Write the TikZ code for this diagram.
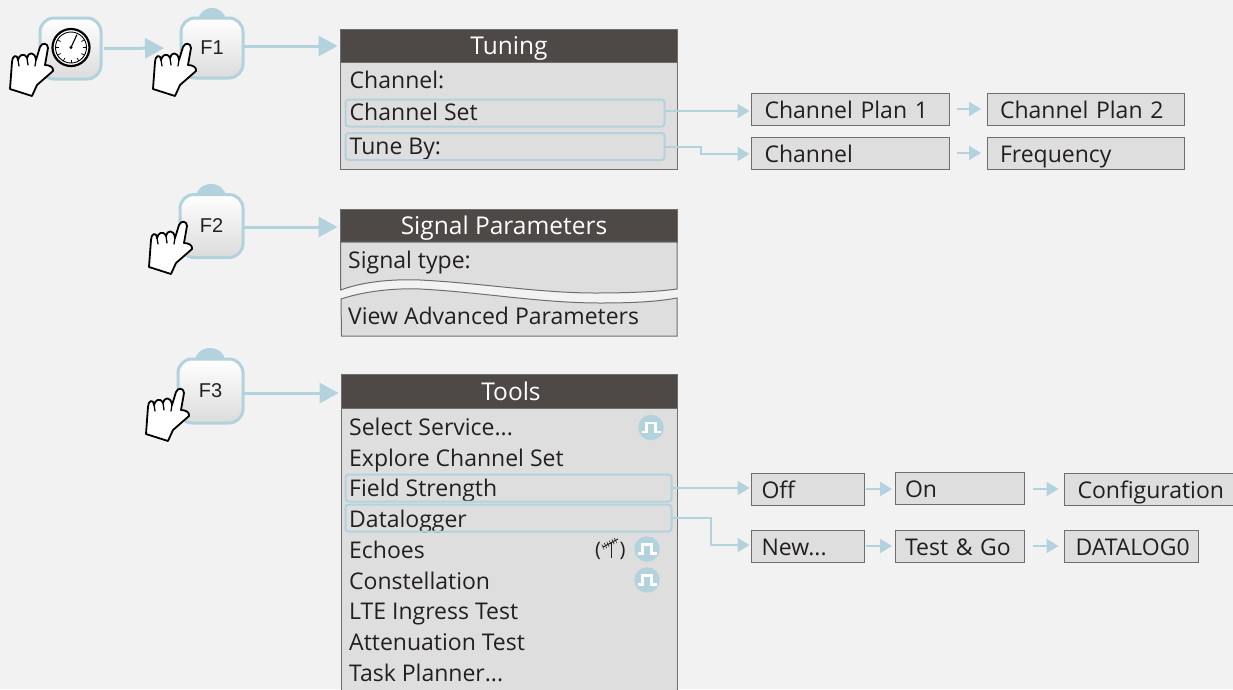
\documentclass[tikz,border=0pt]{standalone}
\usepackage{fontspec}
\setmainfont{Open Sans}
\newfontfamily\arialfont{Liberation Sans}
\usetikzlibrary{arrows.meta,calc}
\definecolor{pagebg}{HTML}{F2F2F2}
\definecolor{panelfill}{HTML}{DEDEDE}
\definecolor{panelline}{HTML}{6E6E6E}
\definecolor{headfill}{HTML}{4E4946}
\definecolor{linkblue}{HTML}{B2D2DD}
\definecolor{inktext}{HTML}{231F20}
\tikzset{
  x=1pt,y=-1pt,
  txt/.style={font=\fontsize{23}{26}\selectfont,text=inktext,anchor=base west,inner sep=0pt},
  headbox/.style={fill=headfill,draw=panelline,line width=1pt,text=white,font=\fontsize{24.5}{27}\selectfont,
     minimum width=#1pt,minimum height=33pt,inner sep=0pt,outer sep=0pt,text height=20pt,text depth=3pt,anchor=north west},
  bodybox/.style={fill=panelfill,draw=panelline,line width=1pt,minimum width=#1pt,inner sep=0pt,outer sep=0pt,anchor=north west},
  selbox/.style={draw=linkblue,line width=2pt,rounded corners=3pt,minimum width=#1pt,minimum height=27pt,inner sep=0pt,outer sep=0pt,anchor=north west},
  mbox/.style={fill=panelfill,draw=panelline,line width=1pt,font=\fontsize{23}{26}\selectfont,text=inktext,
     text width=#1pt,align=left,inner xsep=13pt,inner ysep=0pt,outer sep=0pt,minimum height=32pt,text height=20pt,text depth=2pt,anchor=north west},
  fbtn/.style={draw=linkblue,line width=3pt,rounded corners=14pt,top color=white,bottom color=black!14,
     minimum width=#1pt,inner sep=0pt,outer sep=0pt,font=\arialfont\fontsize{20}{22}\selectfont,text=inktext},
  bigarrow/.style={draw=linkblue,line width=3pt,-{Triangle[length=19pt,width=20pt]}},
  midarrow/.style={draw=linkblue,line width=2pt,-{Triangle[length=12pt,width=14pt]}},
  tinyarrow/.style={draw=linkblue,line width=2pt,-{Triangle[length=12pt,width=14pt]}},
  bump/.style={fill=linkblue},
  pulsedot/.style={circle,fill=linkblue,minimum size=25.5pt,inner sep=0pt,outer sep=0pt},
  handpic/.pic={
    \draw[fill=white,draw=black,line width=1.8pt,line join=round]
      (10,89) -- (12,62) .. controls (12,56) and (17,53) .. (18,60)
      .. controls (19,55) and (24,52) .. (27,58)
      .. controls (28,52) and (35,51) .. (36,60)
      -- (40,47) .. controls (42,42) and (48,43) .. (48,48)
      -- (45,65) .. controls (49,65) and (54,67) .. (53,71)
      -- (37,85) -- (32,96) -- cycle;
    \draw[draw=black,line width=1.3pt,line cap=round] (18,60) -- (19,66) (27,58) -- (28,65) (36,60) -- (35,66);
  },
  pulsepic/.pic={
    \draw[white,line width=2.2pt] (-9,4.5) -- (-4.5,4.5) -- (-4.5,-4.5) -- (4.5,-4.5) -- (4.5,4.5) -- (9.5,4.5);
  }
}
\begin{document}
\begin{tikzpicture}
\useasboundingbox (0,0) rectangle (1233,689);
\fill[pagebg] (0,0) rectangle (1233,689);

% first button with gauge
\node[fbtn=61,minimum height=61pt] (b0) at (70.5,48.5) {};
\node[circle,draw=black,line width=2.2pt,fill=white,minimum size=37pt,inner sep=0pt,outer sep=0pt] (gauge) at (71,47.5) {};
\draw[black,line width=0.9pt] (gauge) circle[radius=15.5];
\foreach \a in {-30,0,30,60,90,120,150,180,210}
  \draw[black,line width=0.7pt] ($(gauge)+(\a:15.5)$) -- ($(gauge)+(\a:12)$);
\draw[black,line width=1.1pt] (gauge.center) -- ++(6,-13);
\fill[black] (gauge.center) circle[radius=1.7];

% function buttons
\fill[bump] (212,21) ellipse[x radius=14,y radius=13];
\fill[bump] (211,197) ellipse[x radius=15,y radius=13];
\fill[bump] (210,361) ellipse[x radius=15,y radius=13];
\node[fbtn=62,minimum height=60pt] (f1) at (212,48) {F1};
\node[fbtn=63,minimum height=63pt] (f2) at (211.5,226) {F2};
\node[fbtn=65,minimum height=64pt] (f3) at (210.5,391) {F3};

% Tuning panel
\node[bodybox=337,minimum height=107pt] (tunebody) at (340.5,62) {};
\node[headbox=337] (tunehead) at (340.5,29.5) {Tuning};
\node[txt] (t1) at (349.5,88) {Channel:};
\node[txt] (t2) at (349.5,120) {Channel Set};
\node[txt] (t3) at (349.5,154) {Tune By:};
\node[selbox=319] (sel1) at (345.5,99.5) {};
\node[selbox=319] (sel2) at (345.5,133) {};

\node[mbox=172] (plan1) at (751.5,93) {Channel Plan 1};
\node[mbox=171] (plan2) at (987,93) {Channel Plan 2};
\node[mbox=172] (chan) at (751.5,137) {Channel};
\node[mbox=171] (freq) at (987,137) {Frequency};

% Signal Parameters panel
\node[headbox=337] (sighead) at (340.5,209.5) {\hspace*{-10pt}Signal Parameters};
\draw[fill=panelfill,draw=panelline,line width=1pt]
  (340.5,242) -- (340.5,290) .. controls (365,281) and (395,279) .. (420,280)
  .. controls (480,283) and (540,293) .. (595,293)
  .. controls (625,293) and (655,292) .. (677,289) -- (677,242) -- cycle;
\draw[fill=panelfill,draw=panelline,line width=1pt]
  (341,299) .. controls (365,291) and (395,288) .. (420,289)
  .. controls (480,292) and (540,303) .. (600,303)
  .. controls (630,303) and (655,302) .. (677,298) -- (677,336) -- (341.5,336) -- cycle;
\node[txt] (s1) at (348,268) {Signal type:};
\node[txt] (s2) at (348,324) {View Advanced Parameters};

% Tools panel
\node[bodybox=336,minimum height=290pt] (toolbody) at (341.5,408) {};
\node[headbox=336,minimum height=34pt] (toolhead) at (341.5,374.5) {\hspace*{3pt}Tools};
\node[txt] (o1) at (349,435) {Select Service...};
\node[txt] (o2) at (349,466) {Explore Channel Set};
\node[txt] (o3) at (349,496) {Field Strength};
\node[txt] (o4) at (349,527) {Datalogger};
\node[txt] (o5) at (349,558) {Echoes};
\node[txt] (o6) at (349,589) {Constellation};
\node[txt] (o7) at (349,619) {LTE Ingress Test};
\node[txt] (o8) at (349,650) {Attenuation Test};
\node[txt] (o9) at (349,681) {Task Planner...};
\node[selbox=326] (sel3) at (345.5,474.5) {};
\node[selbox=326] (sel4) at (345.5,504.5) {};

\node[pulsedot] (p1) at (651,427.5) {}; \pic at (p1) {pulsepic};
\node[pulsedot] (p2) at (647,549) {}; \pic at (p2) {pulsepic};
\node[pulsedot] (p3) at (647,580) {}; \pic at (p3) {pulsepic};

% antenna in parentheses
\node[txt,font=\fontsize{20}{22}\selectfont] (pl) at (595,556) {(};
\node[txt,font=\fontsize{20}{22}\selectfont] (pr) at (619.5,556) {)};
\draw[inktext,line width=0.9pt] (611,542) -- (611,558);
\draw[inktext,line width=1pt] (603,547) -- (618,539);
\foreach \i in {0,1,2,3,4,5}
  \draw[inktext,line width=0.6pt] ($(603,547)+(2.5*\i,-1.3*\i)+(-1.2,-2.5)$) -- ($(603,547)+(2.5*\i,-1.3*\i)+(1.2,2.5)$);

% Tools submenus
\node[mbox=93,inner xsep=10pt] (off) at (751.5,473) {Off};
\node[mbox=109,inner xsep=10pt] (on) at (895,472) {On};
\node[mbox=147] (conf) at (1064.5,473) {Configuration};
\node[mbox=93,inner xsep=10pt] (new) at (751.5,530) {New...};
\node[mbox=109,inner xsep=10pt] (test) at (895,530) {Test \& Go};
\node[mbox=112,inner xsep=11pt] (dlog) at (1064.5,530) {DATALOG0};

% connectors
\coordinate (f1out) at ($(f1.east)+(0,-2)$);
\coordinate (f2out) at ($(f2.east)+(0,1)$);
\coordinate (f3out) at ($(f3.east)+(0,2)$);
\coordinate (plan1in) at ($(plan1.west)+(0,2)$);
\coordinate (chanin) at ($(chan.west)+(0,1)$);
\coordinate (offin) at ($(off.west)+(0,-1)$);
\coordinate (newin) at ($(new.west)+(0,-1)$);
\draw[bigarrow,shorten <=3pt,shorten >=17pt] (b0.east) -- (f1.west);
\draw[bigarrow,shorten >=3pt] (f1out) -- (f1out -| tunehead.west);
\draw[bigarrow,shorten >=3pt] (f2out) -- (f2out -| sighead.west);
\draw[bigarrow,shorten >=3pt] (f3out) -- (f3out -| toolhead.west);

\draw[midarrow,shorten >=2pt] (sel1.east |- plan1in) -- (plan1in);
\draw[midarrow,shorten >=2pt] (sel2.east) -- ++(36,0) |- (chanin);
\draw[midarrow,shorten >=2pt] (sel3.east |- offin) -- (offin);
\draw[midarrow,shorten >=2pt] (sel4.east) -- ++(39,0) |- (newin);

\draw[tinyarrow,shorten <=7pt,shorten >=6pt] (plan1.east) -- (plan2.west);
\draw[tinyarrow,shorten <=7pt,shorten >=6pt] (chan.east) -- (freq.west);
\draw[tinyarrow,shorten <=1pt,shorten >=3pt] (off.east) -- (off.east -| on.west);
\draw[tinyarrow,shorten <=9pt,shorten >=6pt] (on.east |- conf.west) -- (conf.west);
\draw[tinyarrow,shorten <=1pt,shorten >=3pt] (new.east) -- (test.west);
\draw[tinyarrow,shorten <=9pt,shorten >=6pt] (test.east) -- (dlog.west);

% hands
\pic at (0,0) {handpic};
\pic at (143,0) {handpic};
\pic at (139,178) {handpic};
\pic at (136,345) {handpic};
\end{tikzpicture}
\end{document}
